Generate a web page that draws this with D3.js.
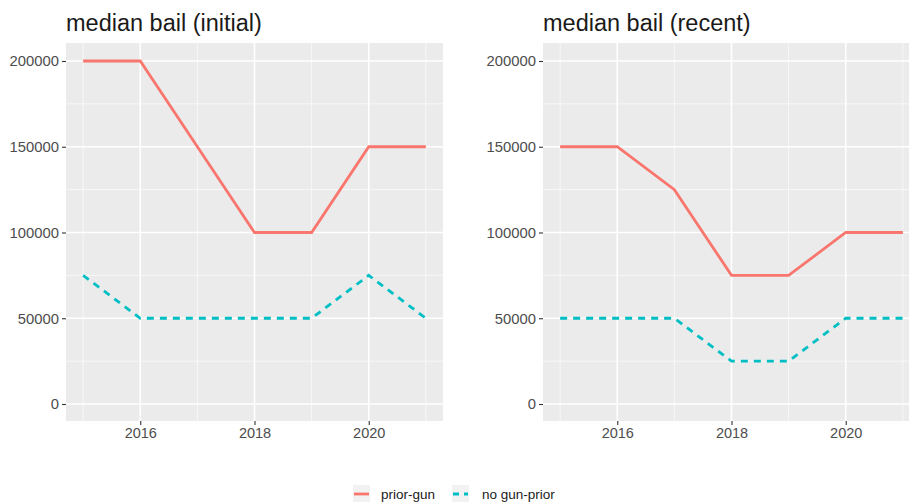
<!DOCTYPE html>
<html><head><meta charset="utf-8">
<script src="https://cdn.jsdelivr.net/npm/d3@7"></script>
<style>body{margin:0;background:#fff;} svg{display:block;font-family:"Liberation Sans",Arial,sans-serif;}</style>
</head><body>
<svg id="c" width="909" height="504"></svg>
<script>
const years = [2015, 2016, 2017, 2018, 2019, 2020, 2021];
const seriesNames = ["prior-gun", "no gun-prior"];
const colors = ["#F8766D", "#00BFC4"];
const panelTitles = ["median bail (initial)", "median bail (recent)"];
const initialPriorGun = [200000, 200000, 150000, 100000, 100000, 150000, 150000];
const initialNoGun = [75000, 50000, 50000, 50000, 50000, 75000, 50000];
const recentPriorGun = [150000, 150000, 125000, 75000, 75000, 100000, 100000];
const recentNoGun = [50000, 50000, 50000, 25000, 25000, 50000, 50000];
const yTicks = [0, 50000, 100000, 150000, 200000];
const xTicks = [2016, 2018, 2020];

const svg = d3.select("#c");
const panels = [
  {title: panelTitles[0], left: 66, series: [initialPriorGun, initialNoGun]},
  {title: panelTitles[1], left: 543, series: [recentPriorGun, recentNoGun]}
];
const pTop = 43, pBottom = 421, pWidth = 377;

panels.forEach(p => {
  const x = d3.scaleLinear().domain([2015 - 0.3, 2021 + 0.3]).range([p.left, p.left + pWidth]);
  const y = d3.scaleLinear().domain([0, 200000]).range([404, 61]);
  const g = svg.append("g");
  g.append("rect").attr("x", p.left).attr("y", pTop).attr("width", pWidth).attr("height", pBottom - pTop).attr("fill", "#EBEBEB");
  const minorY = [25000, 75000, 125000, 175000];
  g.selectAll(".my").data(minorY).join("line").attr("x1", p.left).attr("x2", p.left + pWidth)
    .attr("y1", d => y(d)).attr("y2", d => y(d)).attr("stroke", "#fff").attr("stroke-width", 0.8).attr("opacity", 0.8);
  const minorX = [2015, 2017, 2019, 2021];
  g.selectAll(".mx").data(minorX).join("line").attr("y1", pTop).attr("y2", pBottom)
    .attr("x1", d => x(d)).attr("x2", d => x(d)).attr("stroke", "#fff").attr("stroke-width", 0.8).attr("opacity", 0.8);
  g.selectAll(".gy").data(yTicks).join("line").attr("x1", p.left).attr("x2", p.left + pWidth)
    .attr("y1", d => y(d)).attr("y2", d => y(d)).attr("stroke", "#fff").attr("stroke-width", 1.6);
  g.selectAll(".gx").data(xTicks).join("line").attr("y1", pTop).attr("y2", pBottom)
    .attr("x1", d => x(d)).attr("x2", d => x(d)).attr("stroke", "#fff").attr("stroke-width", 1.6);
  const ya = g.append("g").attr("transform", `translate(${p.left},0)`)
    .call(d3.axisLeft(y).tickValues(yTicks).tickSize(4).tickPadding(3).tickFormat(d3.format("d")));
  ya.select(".domain").remove();
  ya.selectAll("line").attr("stroke", "#333").attr("stroke-width", 1.1);
  ya.selectAll("text").attr("fill", "#4D4D4D").style("font-size", "14.8px");
  const xa = g.append("g").attr("transform", `translate(0,${pBottom})`)
    .call(d3.axisBottom(x).tickValues(xTicks).tickSize(4).tickPadding(3).tickFormat(d3.format("d")));
  xa.select(".domain").remove();
  xa.selectAll("line").attr("stroke", "#333").attr("stroke-width", 1.1);
  xa.selectAll("text").attr("fill", "#4D4D4D").style("font-size", "14.5px");
  g.append("text").attr("x", p.left).attr("y", 31).text(p.title).attr("fill", "#1a1a1a").style("font-size", "23.5px");
  const line = d3.line().x((d, i) => x(years[i])).y(d => y(d));
  p.series.forEach((s, k) => {
    g.append("path").datum(s).attr("d", line).attr("fill", "none").attr("stroke", colors[k])
      .attr("stroke-width", 2.8).attr("stroke-dasharray", k === 1 ? "7,6" : null);
  });
});

const lg = svg.append("g");
const keyX = [353, 452], textX = [381, 482];
seriesNames.forEach((n, k) => {
  lg.append("rect").attr("x", keyX[k]).attr("y", 485).attr("width", 17).attr("height", 17).attr("fill", "#F2F2F2");
  lg.append("line").attr("x1", keyX[k] + 1).attr("x2", keyX[k] + 16).attr("y1", 494).attr("y2", 494)
    .attr("stroke", colors[k]).attr("stroke-width", 2.8).attr("stroke-dasharray", k === 1 ? "6,5" : null);
  lg.append("text").attr("x", textX[k]).attr("y", 499).text(n).attr("fill", "#1a1a1a").style("font-size", "13.5px");
});
</script>
</body></html>
